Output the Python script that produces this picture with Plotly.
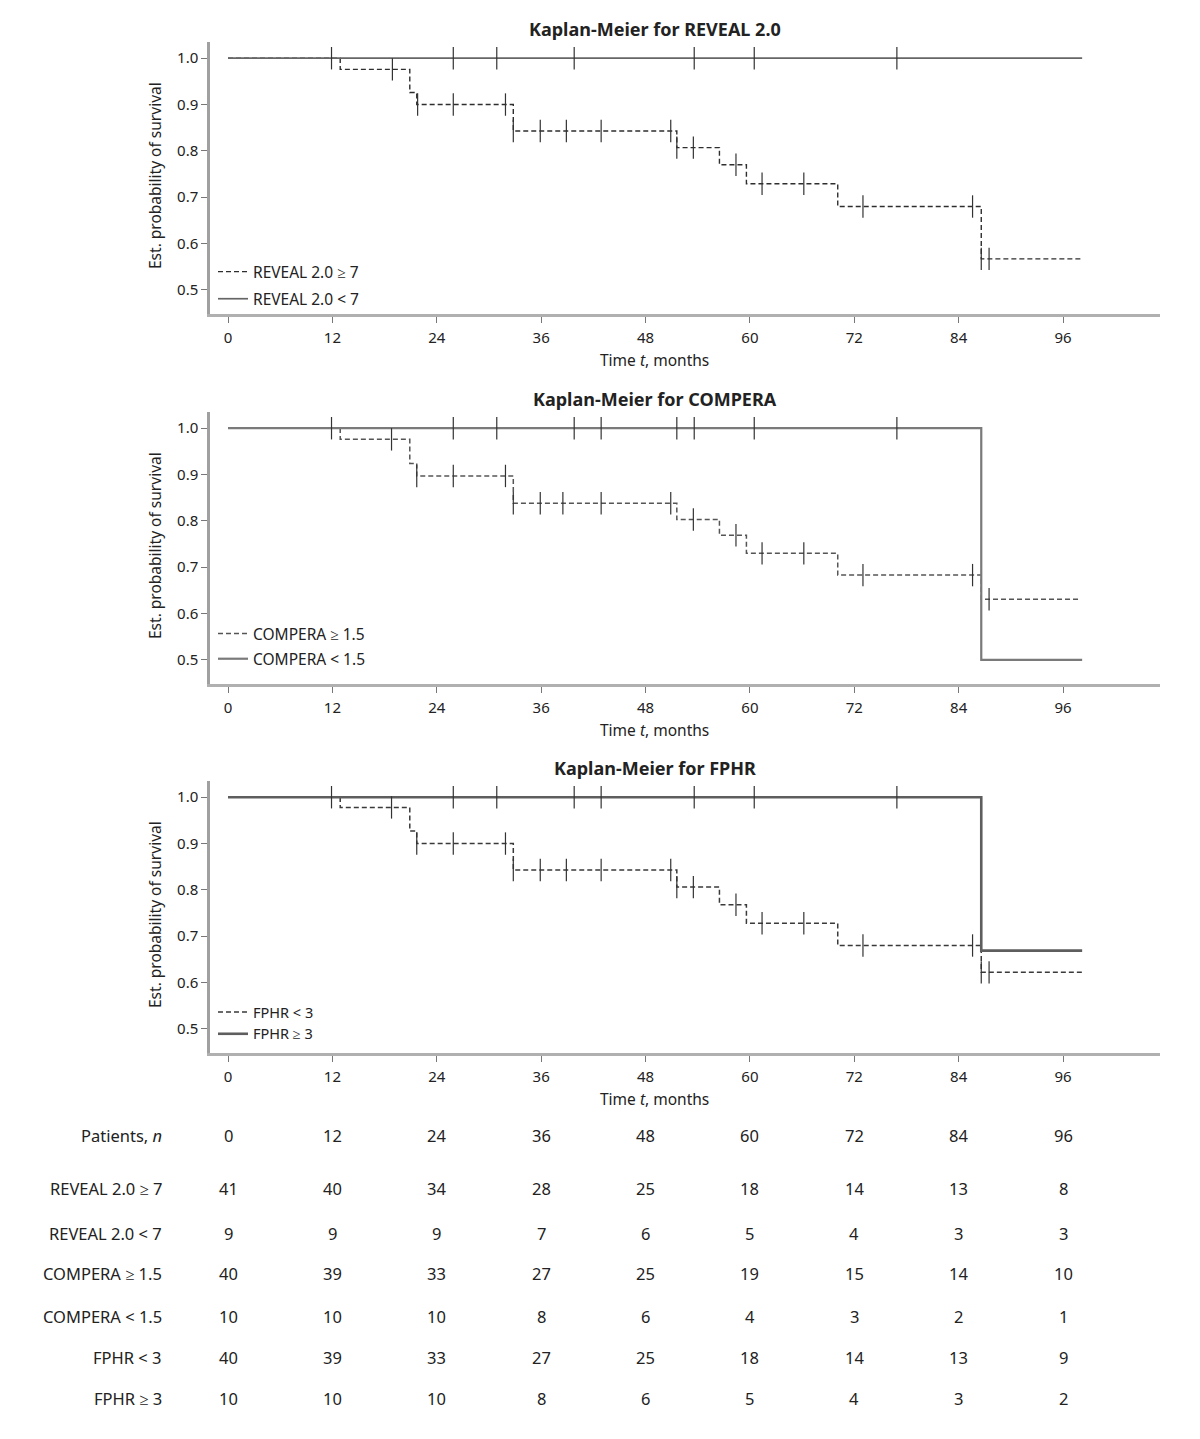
import numpy as np
import plotly.graph_objects as go

# page body has an 8px default margin; figure is sized so that it fills the window
OFF = 8
W, H = 1200 - OFF, 1439 - OFF
FONT = "Noto Sans"

# ---------------- data ----------------
month_ticks = [0, 12, 24, 36, 48, 60, 72, 84, 96]

# REVEAL 2.0
reveal_hi_t = [0, 12.9, 20.9, 21.7, 32.8, 51.6, 56.5, 59.6, 70.1, 86.6, 98.2]
reveal_hi_s = [1.0, 0.976, 0.926, 0.900, 0.843, 0.807, 0.770, 0.729, 0.680, 0.567, 0.567]
reveal_hi_cens = [18.9, 21.8, 25.9, 31.9, 32.8, 35.9, 38.9, 42.9, 50.9, 51.6, 53.5,
                  58.4, 61.4, 66.2, 73.0, 85.6, 86.6, 87.5]
reveal_lo_t = [0, 98.2]
reveal_lo_s = [1.0, 1.0]
reveal_lo_cens = [11.9, 25.9, 30.9, 39.8, 53.6, 60.5, 76.9]

# COMPERA
compera_hi_t = [0, 12.9, 20.9, 21.7, 32.8, 51.6, 56.5, 59.6, 70.1, 86.6, 98.0]
compera_hi_s = [1.0, 0.976, 0.924, 0.897, 0.838, 0.803, 0.769, 0.730, 0.683, 0.631, 0.631]
compera_hi_cens = [18.8, 21.7, 25.9, 31.9, 32.8, 35.9, 38.5, 42.9, 50.9, 53.5, 58.4,
                   61.4, 66.2, 73.0, 85.6, 87.5]
compera_lo_t = [0, 86.6, 98.2]
compera_lo_s = [1.0, 0.5, 0.5]
compera_lo_cens = [11.9, 25.9, 30.9, 39.8, 42.9, 51.6, 53.6, 60.5, 76.9]

# FPHR
fphr_lo_t = [0, 12.9, 20.9, 21.7, 32.8, 51.6, 56.5, 59.6, 70.1, 86.6, 98.2]
fphr_lo_s = [1.0, 0.978, 0.927, 0.900, 0.843, 0.806, 0.768, 0.728, 0.680, 0.622, 0.622]
fphr_lo_cens = [18.8, 21.7, 25.9, 31.9, 32.8, 35.9, 38.9, 42.9, 50.9, 51.6, 53.5, 58.4,
                61.4, 66.2, 73.0, 85.6, 86.6, 87.5]
fphr_hi_t = [0, 86.6, 98.2]
fphr_hi_s = [1.0, 0.669, 0.669]
fphr_hi_cens = [11.9, 25.9, 30.9, 39.8, 42.9, 53.6, 60.5, 76.9]

panel_titles = ["Kaplan-Meier for REVEAL 2.0", "Kaplan-Meier for COMPERA", "Kaplan-Meier for FPHR"]

# risk table
risk_labels = ["REVEAL 2.0 ≥ 7", "REVEAL 2.0 < 7", "COMPERA ≥ 1.5", "COMPERA < 1.5",
               "FPHR < 3", "FPHR ≥ 3"]
risk_reveal_hi = [41, 40, 34, 28, 25, 18, 14, 13, 8]
risk_reveal_lo = [9, 9, 9, 7, 6, 5, 4, 3, 3]
risk_compera_hi = [40, 39, 33, 27, 25, 19, 15, 14, 10]
risk_compera_lo = [10, 10, 10, 8, 6, 4, 3, 2, 1]
risk_fphr_lo = [40, 39, 33, 27, 25, 18, 14, 13, 9]
risk_fphr_hi = [10, 10, 10, 8, 6, 5, 4, 3, 2]
risk_rows = [risk_reveal_hi, risk_reveal_lo, risk_compera_hi, risk_compera_lo,
             risk_fphr_lo, risk_fphr_hi]

# ---------------- layout geometry (window pixels) ----------------
X_L, X_R = 210, 1160
panels_px = [(42, 314), (412, 684), (781, 1053)]

TXT = "#222222"
F_TICK, F_AXT, F_LEG, F_TITLE, F_TAB = 15, 15.5, 15.5, 18, 16.5


def px_x(p):
    return (p - OFF) / W


def px_y(p):
    return 1 - (p - OFF) / H


def step_value(times, surv, t):
    i = np.searchsorted(np.array(times), t, side="right") - 1
    return surv[max(i, 0)]


fig = go.Figure()

groups = [
    [("REVEAL 2.0 ≥ 7", reveal_hi_t, reveal_hi_s, reveal_hi_cens, "dash", "#2e2e2e", 1.4),
     ("REVEAL 2.0 < 7", reveal_lo_t, reveal_lo_s, reveal_lo_cens, "solid", "#666666", 1.7)],
    [("COMPERA ≥ 1.5", compera_hi_t, compera_hi_s, compera_hi_cens, "dash", "#555555", 1.5),
     ("COMPERA < 1.5", compera_lo_t, compera_lo_s, compera_lo_cens, "solid", "#7a7a7a", 2.2)],
    [("FPHR < 3", fphr_lo_t, fphr_lo_s, fphr_lo_cens, "dash", "#3a3a3a", 1.5),
     ("FPHR ≥ 3", fphr_hi_t, fphr_hi_s, fphr_hi_cens, "solid", "#5e5e5e", 2.6)],
]

legend_tops = [255, 617, 996]
legend_gaps = [4, 2, 0]
legend_fonts = [F_LEG, F_LEG, 14.5]

for k, grp in enumerate(groups):
    xa = "x" if k == 0 else f"x{k+1}"
    ya = "y" if k == 0 else f"y{k+1}"
    lg = "legend" if k == 0 else f"legend{k+1}"
    for j, (name, t, s, cens, dash, col, lw) in enumerate(grp):
        dpat = "5px,3px" if dash == "dash" else "solid"
        fig.add_trace(go.Scatter(
            x=t, y=s, mode="lines", line=dict(shape="hv", color=col, width=lw, dash=dpat),
            name=name, xaxis=xa, yaxis=ya, legend=lg, legendgroup=f"g{k}{j}",
            hoverinfo="skip"))
    for j, (name, t, s, cens, dash, col, lw) in enumerate(grp):
        cy = [step_value(t, s, c) for c in cens]
        fig.add_trace(go.Scatter(
            x=cens, y=cy, mode="markers", showlegend=False, xaxis=xa, yaxis=ya,
            marker=dict(symbol="line-ns", size=16, line=dict(color="#333333", width=1.2)),
            hoverinfo="skip"))

layout = dict(
    width=W, height=H, paper_bgcolor="white", plot_bgcolor="white",
    margin=dict(l=0, r=0, t=0, b=0), showlegend=True,
    font=dict(family=FONT, size=F_TICK, color=TXT),
)

annotations = []
for k, (top, bot) in enumerate(panels_px):
    sfx = "" if k == 0 else str(k + 1)
    layout[f"xaxis{sfx}"] = dict(
        domain=[px_x(X_L), px_x(X_R)], range=[-2.07, 107.15],
        anchor=f"y{sfx}", tickmode="array", tickvals=month_ticks,
        ticks="outside", ticklen=6, tickcolor="#777777", tickwidth=1,
        showline=True, linecolor="#b0b0b0", linewidth=2.5, showgrid=False,
        zeroline=False, tickfont=dict(size=F_TICK, color=TXT), ticklabelstandoff=2,
    )
    layout[f"yaxis{sfx}"] = dict(
        domain=[px_y(bot), px_y(top)], range=[0.448, 1.035],
        anchor=f"x{sfx}", tickmode="array", tickvals=[0.5, 0.6, 0.7, 0.8, 0.9, 1.0],
        tickformat=".1f", ticks="outside", ticklen=6, tickcolor="#777777",
        showline=True, linecolor="#a0a0a0", linewidth=2.5, showgrid=False,
        zeroline=False, tickfont=dict(size=F_TICK, color=TXT),
    )
    lg = "legend" if k == 0 else f"legend{k+1}"
    layout[lg] = dict(
        x=px_x(213), y=px_y(legend_tops[k]), xanchor="left", yanchor="top",
        bgcolor="rgba(0,0,0,0)", font=dict(size=legend_fonts[k], color=TXT),
        tracegroupgap=legend_gaps[k], itemwidth=30,
    )
    # panel title
    annotations.append(dict(
        text=f"<b>{panel_titles[k]}</b>", x=px_x(655), y=px_y(top - 13),
        xref="paper", yref="paper", showarrow=False, font=dict(size=F_TITLE, color=TXT),
        xanchor="center", yanchor="middle"))
    # y axis title
    annotations.append(dict(
        text="Est. probability of survival", x=px_x(155), y=px_y((top + bot) / 2 - 2),
        xref="paper", yref="paper", showarrow=False, textangle=-90,
        font=dict(size=F_AXT, color=TXT), xanchor="center", yanchor="middle"))
    # x axis title
    annotations.append(dict(
        text="Time <i>t</i>, months", x=px_x(654), y=px_y(bot + 46),
        xref="paper", yref="paper", showarrow=False,
        font=dict(size=F_AXT, color=TXT), xanchor="center", yanchor="middle"))

# risk table
row_y = [1135, 1188, 1233, 1273, 1316, 1357, 1398]
annotations.append(dict(text="Patients, <i>n</i>", x=px_x(164), y=px_y(row_y[0]),
                        xref="paper", yref="paper", showarrow=False, xanchor="right",
                        yanchor="middle", font=dict(size=F_TAB, color=TXT)))
for m in month_ticks:
    annotations.append(dict(text=str(m), x=m, y=px_y(row_y[0]), xref="x3", yref="paper",
                            showarrow=False, xanchor="center", yanchor="middle",
                            font=dict(size=F_TAB, color=TXT)))
for r, (lab, vals) in enumerate(zip(risk_labels, risk_rows)):
    yy = px_y(row_y[r + 1])
    annotations.append(dict(text=lab, x=px_x(164), y=yy, xref="paper", yref="paper",
                            showarrow=False, xanchor="right", yanchor="middle",
                            font=dict(size=F_TAB, color=TXT)))
    for m, v in zip(month_ticks, vals):
        annotations.append(dict(text=str(v), x=m, y=yy, xref="x3", yref="paper",
                                showarrow=False, xanchor="center", yanchor="middle",
                                font=dict(size=F_TAB, color=TXT)))

layout["annotations"] = annotations
fig.update_layout(**layout)
fig.write_html("out.html")
